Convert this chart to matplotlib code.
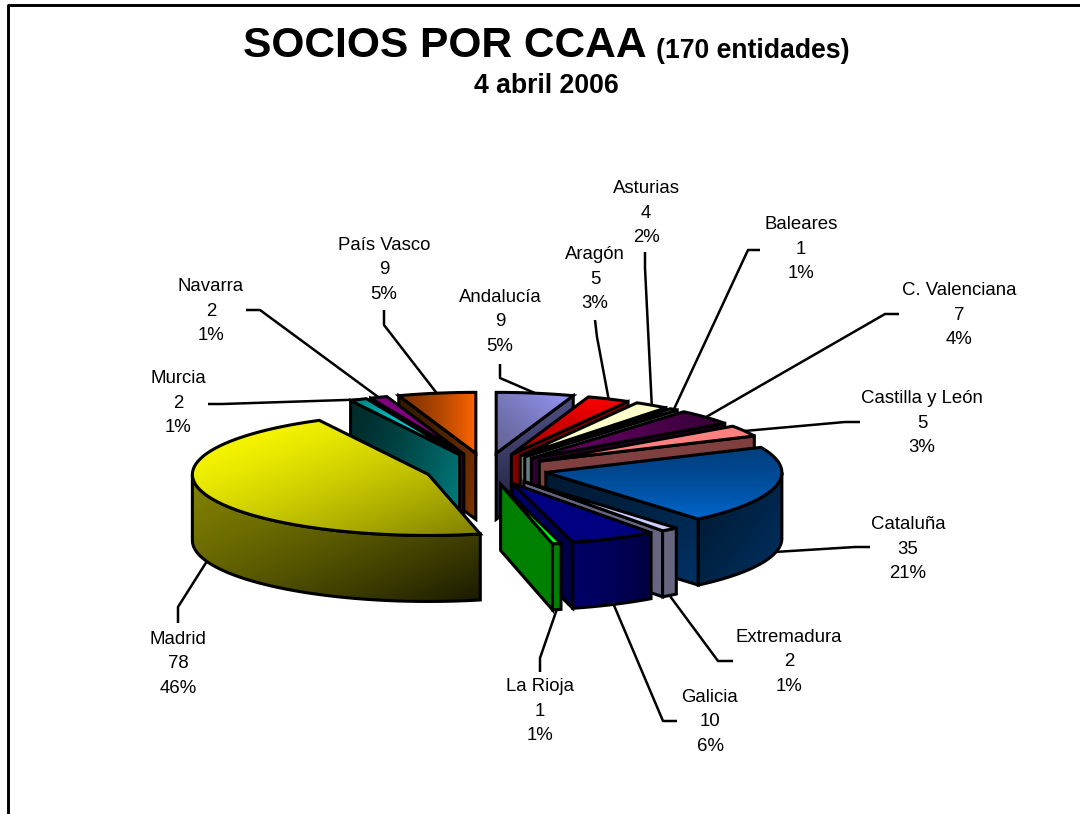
import numpy as np
import matplotlib
matplotlib.use("Agg")
import matplotlib.pyplot as plt
from matplotlib.colors import to_rgb
from matplotlib.patches import Polygon

plt.rcParams['font.family'] = ['Liberation Sans', 'DejaVu Sans']

# --- DATA ---
regions = ['Andalucía', 'Aragón', 'Asturias', 'Baleares', 'C. Valenciana', 'Castilla y León',
           'Cataluña', 'Extremadura', 'Galicia', 'La Rioja', 'Madrid', 'Murcia', 'Navarra', 'País Vasco']
socios = [9, 5, 4, 1, 7, 5, 35, 2, 10, 1, 78, 2, 2, 9]
percents = ['5%', '3%', '2%', '1%', '4%', '3%', '21%', '1%', '6%', '1%', '46%', '1%', '1%', '5%']

# top face colours: start, end, gradient direction in degrees (0 = to the right, 90 = upwards)
top_from = ['#666699', '#B00000', '#FFFFCC', '#99CCCC', '#660066', '#FF8080',
            '#004080', '#CCCCFF', '#000080', '#00FF00', '#FFFF00', '#00FFFF', '#800080', '#803300']
top_to = ['#9999FF', '#FF0000', '#FFFFCC', '#CCFFFF', '#330033', '#FF8080',
          '#0066CC', '#CCCCFF', '#000080', '#008000', '#808000', '#008080', '#800080', '#FF6600']
top_dir = [45, 90, 0, 0, 0, 0, 270, 0, 0, 135, 315, 135, 0, 0]
wall_from = ['#4C4C80', '#800000', '#808066', '#668080', '#330033', '#804040',
             '#001A33', '#666680', '#000066', '#008000', '#808000', '#002B2B', '#330033', '#331A00']
wall_to = ['#1A1A33', '#800000', '#808066', '#668080', '#200020', '#804040',
           '#003366', '#666680', '#000040', '#008000', '#1A1A00', '#008080', '#400040', '#803300']
wall_dir = [270, 0, 0, 0, 0, 0, 315, 0, 0, 0, 315, 340, 0, 340]

# --- LAYOUT (pixels of the 1080x814 picture) ---
CX, CY = 486, 469
RX, RY = 236, 61
DEPTH = 66
EXPLODE = 0.26

label_pos = [(500, 322), (595, 279), (646, 213), (801, 249), (959, 315), (922, 423), (908, 549),
             (789, 662), (710, 722), (540, 711), (178, 664), (178, 403), (211, 311), (384, 270)]
leader_from = [(500, 364), (595, 320), (645, 252), (760, 250), (899, 314), (860, 422), (870, 547),
               (733, 661), (677, 721), (540, 672), (178, 623), (208, 404), (246, 310), (384, 310)]
leader_elbow = [(500, 378), (597, 337), (645, 268), (748, 250), (885, 314), (845, 422), (855, 547),
                (718, 661), (663, 721), (540, 658), (178, 607), (222, 404), (260, 310), (384, 325)]


def ellipse_pt(apex, ang):
    # angle in radians, clockwise from 12 o'clock
    return apex[0] + RX * np.sin(ang), apex[1] - RY * np.cos(ang)


def fill_gradient(ax, pts, c0, c1, direction, z):
    """Fills a polygon with a linear two colour gradient."""
    pts = np.array(pts)
    x0, y0 = pts.min(axis=0)
    x1, y1 = pts.max(axis=0)
    yy, xx = np.mgrid[0:1:64j, 0:1:64j]
    d = np.radians(direction)
    t = xx * np.cos(d) + (1 - yy) * np.sin(d)
    t = ((t - t.min()) / (t.max() - t.min())) ** 1.4
    rgb0, rgb1 = np.array(to_rgb(c0)), np.array(to_rgb(c1))
    img = rgb0 + (rgb1 - rgb0) * t[..., None]
    outline = Polygon(pts, closed=True, fc='none', ec='black', lw=2.2, joinstyle='miter', zorder=z + 0.5)
    ax.add_patch(outline)
    im = ax.imshow(img, extent=(x0, x1, y1, y0), aspect='auto', zorder=z, interpolation='bilinear')
    im.set_clip_path(outline)


fig = plt.figure(figsize=(10.8, 8.14), dpi=100)
ax = fig.add_axes([0, 0, 1, 1])

total = sum(socios)
edges = np.cumsum([0] + socios) / total * 2 * np.pi
mids = (edges[:-1] + edges[1:]) / 2

# back slices first so the front ones paint over them
order = sorted(range(len(socios)), key=lambda i: -np.cos(mids[i]))
z = 3
anchors = {}
for i in order:
    start, end, mid = edges[i], edges[i + 1], mids[i]
    apex = (CX + EXPLODE * RX * np.sin(mid), CY - EXPLODE * RY * np.cos(mid))
    angs = np.linspace(start, end, 80)
    arc = [ellipse_pt(apex, a) for a in angs]
    down = lambda p: (p[0], p[1] + DEPTH)

    if np.sin(start) < -1e-6:
        fill_gradient(ax, [apex, arc[0], down(arc[0]), down(apex)], wall_from[i], wall_to[i], wall_dir[i], z)
        z += 1
    if np.sin(end) > 1e-6:
        fill_gradient(ax, [apex, arc[-1], down(arc[-1]), down(apex)], wall_from[i], wall_to[i], wall_dir[i], z)
        z += 1
    # the outer wall only shows on the front half
    front = [ellipse_pt(apex, a) for a in angs if np.cos(a) < 0]
    if len(front) > 1:
        fill_gradient(ax, front + [down(p) for p in front[::-1]], wall_from[i], wall_to[i], wall_dir[i], z)
        z += 1
    fill_gradient(ax, [apex] + arc, top_from[i], top_to[i], top_dir[i], z)
    z += 1

    p = ellipse_pt(apex, mid)
    anchors[i] = down(p) if np.cos(mid) < 0 else p

for i, name in enumerate(regions):
    lx, ly = label_pos[i]
    ax.text(lx, ly, f"{name}\n{socios[i]}\n{percents[i]}", ha='center', va='center',
            fontsize=13.4, linespacing=1.54, color='black', zorder=200)
    xs = [leader_from[i][0], leader_elbow[i][0], anchors[i][0]]
    ys = [leader_from[i][1], leader_elbow[i][1], anchors[i][1]]
    ax.plot(xs, ys, color='black', lw=1.8, zorder=2, solid_capstyle='butt')

# title, the two sizes sit on one baseline
ax.text(243, 57, 'SOCIOS POR CCAA', fontsize=30.6, fontweight='bold', ha='left', va='baseline')
ax.text(850, 58, '(170 entidades)', fontsize=19.2, fontweight='bold', ha='right', va='baseline')
ax.text(546, 86, '4 abril 2006', fontsize=19.2, fontweight='bold', ha='center', va='center')

# chart frame, cut off by the right and bottom of the picture
ax.plot([7.5, 7.5, 1080], [814, 5, 5], color='black', lw=2.1, zorder=1)

ax.set_xlim(0, 1080)
ax.set_ylim(814, 0)
ax.axis('off')
fig.savefig('out.png', dpi=100, facecolor='white')
